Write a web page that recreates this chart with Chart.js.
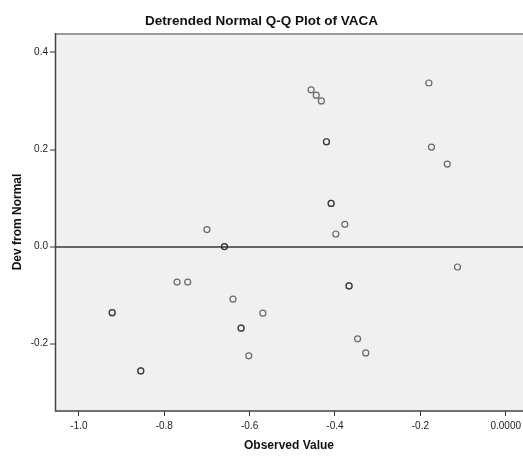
<!DOCTYPE html>
<html>
<head>
  <meta charset="utf-8">
  <title>Detrended Normal Q-Q Plot of VACA</title>
  <script src="https://cdn.jsdelivr.net/npm/chart.js@4"></script>
  <style>html,body{margin:0;padding:0;background:#fff}canvas{display:block}</style>
</head>
<body>
  <canvas id="chart" width="523" height="456"></canvas>
  <script>
    // observed values and their deviation from normal (tied values appear twice)
    const observed = [-0.922, -0.922, -0.855, -0.855, -0.770, -0.745, -0.700, -0.659, -0.659, -0.639,
      -0.620, -0.620, -0.602, -0.569, -0.456, -0.444, -0.432, -0.420, -0.420, -0.409, -0.409,
      -0.398, -0.377, -0.367, -0.367, -0.347, -0.328, -0.180, -0.174, -0.137, -0.113];
    const devFromNormal = [-0.136, -0.136, -0.256, -0.256, -0.073, -0.073, 0.035, 0.0, 0.0, -0.108,
      -0.168, -0.168, -0.225, -0.137, 0.323, 0.312, 0.300, 0.216, 0.216, 0.089, 0.089,
      0.026, 0.046, -0.081, -0.081, -0.190, -0.219, 0.337, 0.205, 0.170, -0.042];
    const xTicks = [-1.0, -0.8, -0.6, -0.4, -0.2, 0.0];
    const xTickLabels = ['-1.0', '-0.8', '-0.6', '-0.4', '-0.2', '0.0000'];
    const yTicks = [-0.2, 0.0, 0.2, 0.4];
    const yTickLabels = ['-0.2', '0.0', '0.2', '0.4'];

    const points = observed.map((x, i) => ({ x: x, y: devFromNormal[i] }));
    const font = 'Liberation Sans, Arial, sans-serif';

    // grey plot background, dark left/bottom frame, lighter top edge
    const plotFrame = {
      id: 'plotFrame',
      beforeDraw(chart) {
        const a = chart.chartArea, c = chart.ctx;
        c.save();
        c.fillStyle = '#f0f0f0';
        c.fillRect(a.left, a.top, a.right - a.left, a.bottom - a.top);
        c.restore();
      },
      afterDraw(chart) {
        const a = chart.chartArea, c = chart.ctx;
        c.save();
        c.lineWidth = 2;
        c.strokeStyle = '#9a9a9a';
        c.beginPath();
        c.moveTo(a.left, a.top + 1);
        c.lineTo(a.right, a.top + 1);
        c.stroke();
        c.lineWidth = 1.5;
        c.strokeStyle = '#444';
        c.beginPath();
        c.moveTo(a.left + 0.5, a.top);
        c.lineTo(a.left + 0.5, a.bottom);
        c.lineTo(a.right, a.bottom);
        c.stroke();
        c.restore();
      }
    };

    new Chart(document.getElementById('chart'), {
      type: 'scatter',
      data: {
        datasets: [{
          data: points,
          pointRadius: 3,
          pointBorderWidth: 1.2,
          pointBackgroundColor: 'rgba(0,0,0,0)',
          pointBorderColor: 'rgba(30,30,30,0.65)'
        }]
      },
      plugins: [plotFrame],
      options: {
        responsive: false,
        animation: false,
        events: [],
        layout: { padding: 0, autoPadding: false },
        plugins: {
          legend: { display: false },
          tooltip: { enabled: false },
          title: {
            display: true,
            text: 'Detrended Normal Q-Q Plot of VACA',
            color: '#111',
            font: { family: font, size: 13.5, weight: 'bold' },
            padding: { top: 13, bottom: 3.8 }
          }
        },
        scales: {
          x: {
            type: 'linear',
            min: -1.056,
            max: 0.0405,
            afterFit: s => { s.height = 45; s.paddingLeft = 0; s.paddingRight = 0; },
            afterBuildTicks: s => { s.ticks = xTicks.map(v => ({ value: v })); },
            ticks: {
              color: '#222',
              font: { family: font, size: 10 },
              padding: 4,
              maxRotation: 0,
              callback: v => xTickLabels[xTicks.indexOf(v)]
            },
            grid: { drawOnChartArea: false, tickLength: 5, tickColor: '#333' },
            border: { display: false },
            title: {
              display: true,
              text: 'Observed Value',
              color: '#111',
              font: { family: font, size: 12, weight: 'bold' },
              padding: { top: 0, bottom: 3 }
            }
          },
          y: {
            type: 'linear',
            min: -0.3386,
            max: 0.44,
            afterFit: s => { s.width = 55; s.paddingTop = 0; s.paddingBottom = 0; },
            afterBuildTicks: s => { s.ticks = yTicks.map(v => ({ value: v })); },
            ticks: {
              color: '#222',
              font: { family: font, size: 10 },
              padding: 2,
              callback: v => yTickLabels[yTicks.indexOf(v)]
            },
            grid: {
              color: c => (c.tick && c.tick.value === 0 ? '#666' : 'rgba(0,0,0,0)'),
              lineWidth: c => (c.tick && c.tick.value === 0 ? 2 : 0),
              tickLength: 5,
              tickColor: '#333',
              tickWidth: 1
            },
            border: { display: false },
            title: {
              display: true,
              text: 'Dev from Normal',
              color: '#111',
              font: { family: font, size: 12, weight: 'bold' },
              padding: { top: 10, bottom: 0 }
            }
          }
        }
      }
    });
  </script>
</body>
</html>
